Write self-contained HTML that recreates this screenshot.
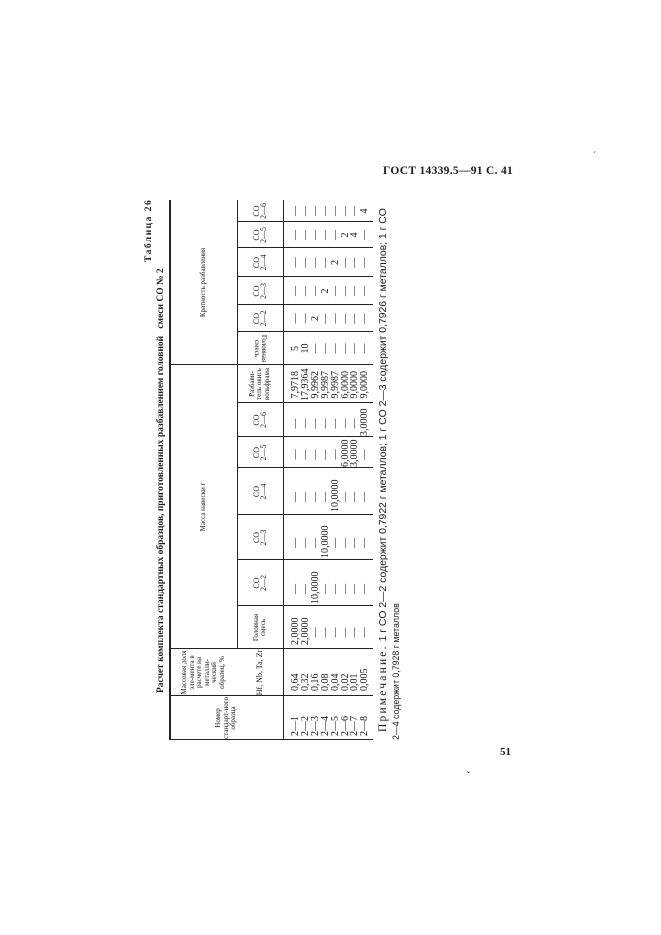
<!DOCTYPE html>
<html><head><meta charset="utf-8">
<style>
html,body{margin:0;padding:0;background:#fff;}
body{width:661px;height:935px;position:relative;overflow:hidden;font-family:"Liberation Serif","DejaVu Serif",serif;color:#1a1a1a;}
#rot{position:absolute;left:155px;top:740px;width:545px;height:240px;transform-origin:0 0;transform:rotate(-90deg);}
#rot div{position:absolute;}
.hl{background:#222;height:1.3px;}
.vl{background:#222;width:1.3px;}
.h{font-size:7px;line-height:7.5px;text-align:center;display:flex;align-items:center;justify-content:center;}
.d{font-size:10px;line-height:9.9px;white-space:pre;font-family:"Liberation Serif",serif;}
.c{text-align:center;}
</style></head><body>
<div style="position:absolute;left:383px;top:165px;font-size:11.5px;font-weight:bold;white-space:nowrap;letter-spacing:0.3px;">ГОСТ 14339.5—91 С. 41</div>
<div style="position:absolute;left:500px;top:746px;font-size:11px;font-weight:bold;">51</div>
<div style="position:absolute;left:593px;top:150px;font-size:9px;">´</div>
<div style="position:absolute;left:467px;top:770px;font-size:9px;">ˇ</div>

<div id="rot">
  <div style="left:47px;top:1px;font-size:9.5px;font-weight:bold;white-space:nowrap;">Расчет комплекта стандартных образцов, приготовленных разбавлением головной &nbsp; смеси СО № 2</div>
  <div style="left:478px;top:-11px;font-size:9.5px;font-weight:bold;letter-spacing:1.5px;white-space:nowrap;">Таблица 26</div>

  <div class="hl" style="left:0;top:14px;width:540px;height:1.6px"></div>
  <div class="hl" style="left:91px;top:82px;width:449px"></div>
  <div class="hl" style="left:0;top:128px;width:540px"></div>
  <div class="vl" style="left:0;top:14px;height:204px"></div>
  <div class="vl" style="left:44px;top:14px;height:204px"></div>
  <div class="vl" style="left:91px;top:14px;height:204px"></div>
  <div class="vl" style="left:375px;top:14px;height:204px"></div>
  <div class="vl" style="left:134px;top:82px;height:136px"></div>
  <div class="vl" style="left:180px;top:82px;height:136px"></div>
  <div class="vl" style="left:225px;top:82px;height:136px"></div>
  <div class="vl" style="left:272px;top:82px;height:136px"></div>
  <div class="vl" style="left:303px;top:82px;height:136px"></div>
  <div class="vl" style="left:337px;top:82px;height:136px"></div>
  <div class="vl" style="left:408px;top:82px;height:136px"></div>
  <div class="vl" style="left:435px;top:82px;height:136px"></div>
  <div class="vl" style="left:463px;top:82px;height:136px"></div>
  <div class="vl" style="left:492px;top:82px;height:136px"></div>
  <div class="vl" style="left:518px;top:82px;height:136px"></div>

  <div class="h" style="left:0;top:15px;width:44px;height:113px">Номер стандарт-ного образца</div>
  <div class="h" style="left:44px;top:15px;width:47px;height:67px">Массовая доля эле-мента в расчете на металли-ческий образец, %</div>
  <div class="h" style="left:44px;top:82px;width:47px;height:46px;font-size:8px">Hf, Nb, Ta, Zr</div>
  <div class="h" style="left:91px;top:15px;width:284px;height:67px">Масса навески г</div>
  <div class="h" style="left:91px;top:82px;width:43px;height:46px">Головная смесь</div>
  <div class="h" style="left:134px;top:82px;width:46px;height:46px;font-size:8px">CO<br>2—2</div>
  <div class="h" style="left:180px;top:82px;width:45px;height:46px;font-size:8px">CO<br>2—3</div>
  <div class="h" style="left:225px;top:82px;width:47px;height:46px;font-size:8px">CO<br>2—4</div>
  <div class="h" style="left:272px;top:82px;width:31px;height:46px;font-size:8px">CO<br>2—5</div>
  <div class="h" style="left:303px;top:82px;width:34px;height:46px;font-size:8px">CO<br>2—6</div>
  <div class="h" style="left:337px;top:82px;width:38px;height:46px">Разбави-тель окись вольфрама</div>
  <div class="h" style="left:375px;top:15px;width:165px;height:67px">Кратность разбавления</div>
  <div class="h" style="left:375px;top:82px;width:33px;height:46px;transform:rotate(180deg)">Головная смесь</div>
  <div class="h" style="left:408px;top:82px;width:27px;height:46px;font-size:8px">CO<br>2—2</div>
  <div class="h" style="left:435px;top:82px;width:28px;height:46px;font-size:8px">CO<br>2—3</div>
  <div class="h" style="left:463px;top:82px;width:29px;height:46px;font-size:8px">CO<br>2—4</div>
  <div class="h" style="left:492px;top:82px;width:26px;height:46px;font-size:8px">CO<br>2—5</div>
  <div class="h" style="left:518px;top:82px;width:22px;height:46px;font-size:8px">CO<br>2—6</div>

  <div class="d" style="left:4px;top:136px">2—1
2—2
2—3
2—4
2—5
2—6
2—7
2—8</div>
  <div class="d" style="left:49px;top:136px">0,64
0,32
0,16
0,08
0,04
0,02
0,01
0,005</div>
  <div class="d" style="left:95px;top:136px">2,0000
2,0000
   —
   —
   —
   —
   —
   —</div>
  <div class="d" style="left:136px;top:136px">    —
    —
10,0000
    —
    —
    —
    —
    —</div>
  <div class="d" style="left:182px;top:136px">    —
    —
    —
10,0000
    —
    —
    —
    —</div>
  <div class="d" style="left:228px;top:136px">    —
    —
    —
    —
10,0000
    —
    —
    —</div>
  <div class="d" style="left:273px;top:136px">   —
   —
   —
   —
   —
6,0000
3,0000
   —</div>
  <div class="d" style="left:304px;top:136px">   —
   —
   —
   —
   —
   —
   —
3,0000</div>
  <div class="d" style="left:339px;top:136px"> 7,9718
17,9364
 9,9962
 9,9987
 9,9987
 6,0000
 9,0000
 9,0000</div>
  <div class="d c" style="left:375px;top:136px;width:33px">5
10
—
—
—
—
—
—</div>
  <div class="d c" style="left:408px;top:136px;width:27px">—
—
2
—
—
—
—
—</div>
  <div class="d c" style="left:435px;top:136px;width:28px">—
—
—
2
—
—
—
—</div>
  <div class="d c" style="left:463px;top:136px;width:29px">—
—
—
—
2
—
—
—</div>
  <div class="d c" style="left:492px;top:136px;width:26px">—
—
—
—
—
2
4
—</div>
  <div class="d c" style="left:518px;top:136px;width:22px">—
—
—
—
—
—
—
4</div>

  <div style="left:8px;top:222px;font-size:10.4px;white-space:nowrap;font-family:'Liberation Sans',sans-serif;"><span style="letter-spacing:2.2px;font-family:'Liberation Serif',serif;font-size:11.5px">Примечание.</span> 1 г CO 2—2 содержит 0,7922 г металлов; 1 г CO 2—3 содержит 0,7926 г металлов; 1 г CO</div>
  <div style="left:0px;top:236px;font-size:8.8px;white-space:nowrap;font-family:'Liberation Sans',sans-serif;">2—4 содержит 0,7928 г металлов</div>
</div>
</body></html>
